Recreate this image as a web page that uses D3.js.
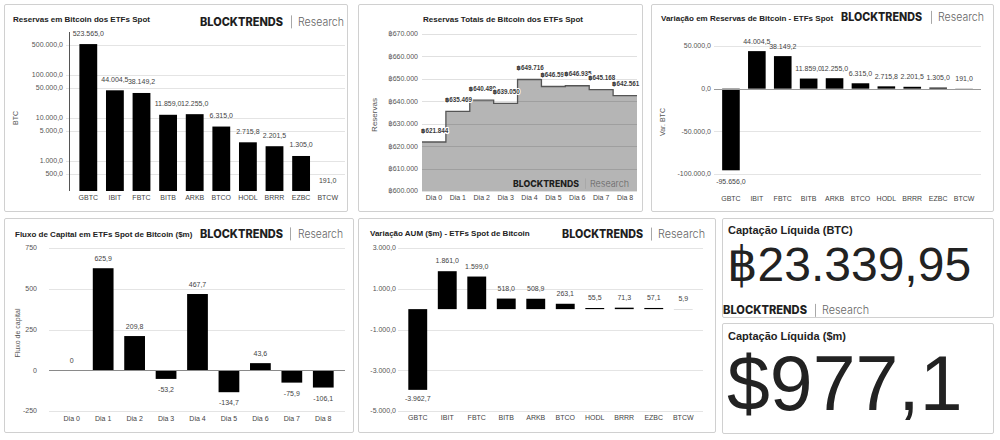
<!DOCTYPE html>
<html><head><meta charset="utf-8">
<script src="https://cdn.jsdelivr.net/npm/d3@7"></script>
<style>
body{margin:0;background:#fff;}
svg{display:block;font-family:"Liberation Sans",Arial,"DejaVu Sans",sans-serif;}
</style></head><body>
<svg id="c" width="1000" height="440"></svg>
<script>
// ---------- DATA ----------
const etfs = ["GBTC","IBIT","FBTC","BITB","ARKB","BTCO","HODL","BRRR","EZBC","BTCW"];
const reservesBTC = [523565.0,44004.5,38149.2,11859.0,12255.0,6315.0,2715.8,2201.5,1305.0,191.0];
const reserveTicks = [500000,100000,50000,10000,5000,1000,500];

const days = ["Dia 0","Dia 1","Dia 2","Dia 3","Dia 4","Dia 5","Dia 6","Dia 7","Dia 8"];
const totalReserves = [621844,635469,640480,639050,649716,646591,646935,645168,642561];
const totalTicks = [600000,610000,620000,630000,640000,650000,660000,670000];

const varBTC = [-95656.0,44004.5,38149.2,11859.0,12255.0,6315.0,2715.8,2201.5,1305.0,191.0];
const varTicks = [50000,0,-50000,-100000];

const flows = [0,625.9,209.8,-53.2,467.7,-134.7,43.6,-75.9,-106.1];
const flowTicks = [750,500,250,0,-250];

const aumChange = [-3962.7,1861.0,1599.0,518.0,508.9,263.1,55.5,71.3,57.1,5.9];
const aumTicks = [3000,1000,-1000,-3000,-5000];

const netBTC = 23339.95;
const netUSD = 977.1;

// ---------- HELPERS ----------
const svg = d3.select("#c");
const loc = d3.formatLocale({decimal:",",thousands:".",grouping:[3],currency:["$",""],minus:"-"});
const f1 = loc.format(",.1f"), f0 = loc.format(",.0f"), f2 = loc.format(",.2f");

function panel(x0,y0,x1,y1){
  svg.append("rect").attr("x",x0+0.5).attr("y",y0+0.5).attr("width",x1-x0).attr("height",y1-y0)
    .attr("fill","#fff").attr("stroke","#d0d0d0").attr("stroke-width",1).attr("rx",1.5);
}
function title(txt,x,y,size,anchor){
  svg.append("text").attr("x",x).attr("y",y).attr("font-size",size).attr("font-weight","bold")
    .attr("fill","#222").attr("text-anchor",anchor||"start").text(txt);
}
function logo(bx,base,bw,sx,rx,rw,size){
  const g = svg.append("g");
  g.append("text").attr("x",bx).attr("y",base).attr("font-family","Inter, 'Open Sans', sans-serif")
    .attr("font-weight",800).attr("font-size",size).attr("fill","#1e1e1e")
    .attr("textLength",bw).attr("lengthAdjust","spacingAndGlyphs").text("BLOCKTRENDS");
  g.append("line").attr("x1",sx+0.5).attr("x2",sx+0.5).attr("y1",base-size*0.88).attr("y2",base+size*0.25)
    .attr("stroke","#a8a8a8").attr("stroke-width",1);
  g.append("text").attr("x",rx).attr("y",base).attr("font-family","Inter, 'Open Sans', sans-serif")
    .attr("font-weight",300).attr("font-size",size).attr("fill","#666")
    .attr("textLength",rw).attr("lengthAdjust","spacingAndGlyphs").text("Research");
}
function ylabel(txt,x,y,size){
  svg.append("text").attr("transform",`translate(${x},${y}) rotate(-90)`).attr("text-anchor","middle")
    .attr("font-size",size||7).attr("fill","#555").text(txt);
}

function bars(o){
  const x = d3.scaleBand().domain(o.cats).range(o.xr).paddingInner(o.pi).paddingOuter(o.pi/2);
  const y = o.y;
  const g = svg.append("g");
  g.selectAll("line.grid").data(o.ticks).join("line")
    .attr("x1",o.gx[0]).attr("x2",o.gx[1])
    .attr("y1",d=>Math.round(y(d))+0.5).attr("y2",d=>Math.round(y(d))+0.5)
    .attr("stroke","#e4e4e4").attr("stroke-width",1);
  g.selectAll("text.tick").data(o.ticks).join("text")
    .attr("x",o.tx).attr("y",d=>y(d)).attr("dy","0.35em").attr("text-anchor","end")
    .attr("font-size",7).attr("fill","#555").text(o.tf);
  const y0 = y(o.base);
  g.selectAll("rect.bar").data(o.vals).join("rect")
    .attr("x",(d,i)=>x(o.cats[i])).attr("width",x.bandwidth())
    .attr("y",d=>Math.min(y(d),y0)).attr("height",d=>Math.abs(y(d)-y0))
    .attr("fill","#000");
  if(o.zero){
    g.append("line").attr("x1",o.gx[0]).attr("x2",o.gx[1])
      .attr("y1",Math.round(y0)+0.5).attr("y2",Math.round(y0)+0.5)
      .attr("stroke",o.zero).attr("stroke-width",1);
  }
  g.selectAll("text.val").data(o.vals).join("text")
    .attr("x",(d,i)=>x(o.cats[i])+x.bandwidth()/2)
    .attr("y",d=> (o.above || d>=o.base) ? y(d)-o.posOff : y(d)+o.negOff)
    .attr("text-anchor","middle").attr("font-size",7).attr("fill","#444").text(o.vf);
  g.selectAll("text.cat").data(o.cats).join("text")
    .attr("x",d=>x(d)+x.bandwidth()/2).attr("y",o.catY).attr("text-anchor","middle")
    .attr("font-size",7).attr("fill","#444").text(d=>d);
  return {x,y,g};
}

// ---------- PANEL 1: reserves (log) ----------
panel(4,4,347,211);
title("Reservas em Bitcoin dos ETFs Spot",13,22,8);
logo(200,25.5,83,291,298,46,11.5);
const y1 = d3.scaleLog().domain([200,1e6]).range([191,32]).clamp(true);
bars({cats:etfs,vals:reservesBTC,xr:[75,341],pi:0.33,y:y1,ticks:reserveTicks,tf:d=>f1(d),
  gx:[66,345],tx:63,base:200,above:true,posOff:8.5,negOff:12,vf:d=>f1(d),catY:199.5});
svg.append("line").attr("x1",69.5).attr("x2",69.5).attr("y1",y1(1e6)).attr("y2",y1(200))
  .attr("stroke","#555").attr("stroke-width",1);
ylabel("BTC",18,118,7);

// ---------- PANEL 2: total reserves (step area) ----------
panel(358,4,642,211);
title("Reservas Totais de Bitcoin dos ETFs Spot",503,22,8,"middle");
const x2 = d3.scaleBand().domain(days).range([422,637]);
const y2 = d3.scaleLinear().domain([600000,670000]).range([191,34]);
const pts = days.flatMap((d,i)=>[[x2(d),totalReserves[i]],[x2(d)+x2.bandwidth(),totalReserves[i]]]);
svg.append("path").datum(pts)
  .attr("d",d3.area().x(p=>p[0]).y0(y2(600000)).y1(p=>y2(p[1])))
  .attr("fill","#b5b5b5");
svg.selectAll("line.g2").data(totalTicks).join("line")
  .attr("x1",422).attr("x2",637)
  .attr("y1",d=>Math.round(y2(d))+0.5).attr("y2",d=>Math.round(y2(d))+0.5)
  .attr("stroke","rgba(0,0,0,0.12)");
svg.append("path").datum(pts)
  .attr("d",d3.line().x(p=>p[0]).y(p=>y2(p[1])))
  .attr("fill","none").attr("stroke","#555").attr("stroke-width",1.3);
svg.selectAll("text.t2").data(totalTicks).join("text")
  .attr("x",418).attr("y",d=>y2(d)).attr("dy","0.35em").attr("text-anchor","end")
  .attr("font-size",7).attr("fill","#555").text(d=>"฿"+f0(d));
svg.selectAll("text.c2").data(days).join("text")
  .attr("x",d=>x2(d)+x2.bandwidth()/2).attr("y",199.5).attr("text-anchor","middle")
  .attr("font-size",7).attr("fill","#444").text(d=>d);
svg.selectAll("text.v2").data(totalReserves).join("text")
  .attr("x",(d,i)=>x2(days[i])-1).attr("y",d=>y2(d)-9.5)
  .attr("font-size",6.3).attr("font-weight","bold").attr("fill","#3a3a3a")
  .attr("stroke","#fff").attr("stroke-width",2).attr("paint-order","stroke")
  .text(d=>"฿"+f0(d));
ylabel("Reservas",377,115,8);
logo(513,186.5,66,585,590,39,9.2);

// ---------- PANEL 3: variation BTC ----------
panel(651,4,993,211);
title("Variação em Reservas de Bitcoin - ETFs Spot",661,21,8);
logo(841,21,81,931,938,46,11.5);
const y3 = d3.scaleLinear().domain([-100000,50000]).range([174,46]);
bars({cats:etfs,vals:varBTC,xr:[718,977],pi:0.32,y:y3,ticks:varTicks,tf:d=>f1(d),
  gx:[714,981],tx:711,base:0,zero:"#9a9a9a",posOff:7.5,negOff:14,vf:d=>f1(d),catY:200.5});
ylabel("Var. BTC",665,122,7);

// ---------- PANEL 4: capital flow ----------
panel(4,218,353,432);
title("Fluxo de Capital em ETFs Spot de Bitcoin ($m)",15,236.5,8);
logo(200,237.5,83,290,298,45,11.5);
const y4 = d3.scaleLinear().domain([-250,750]).range([411,248]);
bars({cats:days,vals:flows,xr:[56,339],pi:0.34,y:y4,ticks:flowTicks,tf:d=>f0(d),
  gx:[49,345],tx:37,base:0,zero:"#8a8a8a",posOff:7.5,negOff:13,
  vf:d=>d===0?"0":f1(d),catY:420.5});
ylabel("Fluxo de capital",20,333,7);

// ---------- PANEL 5: AUM change ----------
panel(358,218,715,432);
title("Variação AUM ($m) - ETFs Spot de Bitcoin",370,236,8);
logo(562,237.7,81,651,658,47,11.5);
const y5 = d3.scaleLinear().domain([-5000,3000]).range([411,248]);
bars({cats:etfs,vals:aumChange,xr:[403,698],pi:0.36,y:y5,ticks:aumTicks,tf:d=>f1(d),
  gx:[398,703],tx:396,base:0,posOff:8,negOff:11,vf:d=>f1(d),catY:419.5});

// ---------- PANEL 6: net BTC ----------
panel(722,218,993,317);
title("Captação Líquida (BTC)",728,234,11);
svg.append("text").attr("x",727).attr("y",281).attr("font-size",48).attr("fill","#222")
  .text("฿"+f2(netBTC));
logo(723,314,84,815,822,47,11.5);

// ---------- PANEL 7: net USD ----------
panel(722,323,993,433);
title("Captação Líquida ($m)",728,340,11);
svg.append("text").attr("x",727).attr("y",410).attr("font-size",77).attr("fill","#222")
  .text("$"+f1(netUSD));
</script>
</body></html>
